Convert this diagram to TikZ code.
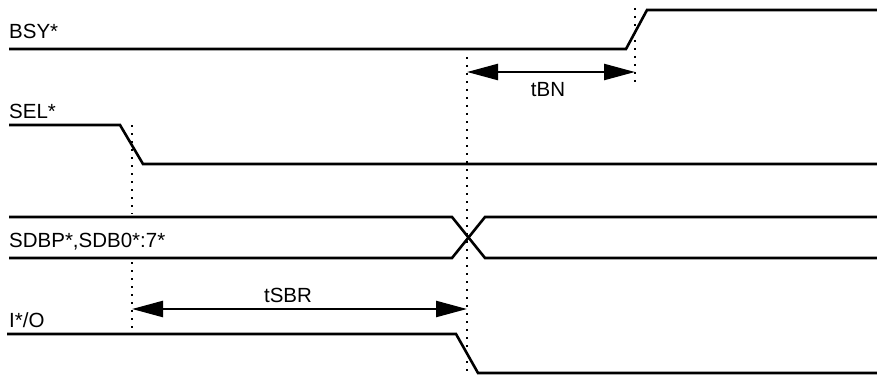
\documentclass[tikz,border=0pt]{standalone}
\usepackage{fontspec}
\setmainfont{Liberation Sans}
\usetikzlibrary{arrows.meta}

\tikzset{
	sig/.style={line width=2.6pt, line join=miter},
	mark line/.style={line width=2pt, dash pattern=on 2pt off 6pt},
	span/.style={line width=2.4pt, {Triangle[length=31pt,width=16pt]}-{Triangle[length=31pt,width=16pt]}},
	sname/.style={anchor=base west, inner sep=0pt, font=\fontsize{20.5}{24}\selectfont},
	tname/.style={anchor=base, inner sep=0pt, font=\fontsize{20.5}{24}\selectfont}
}

\begin{document}
\begin{tikzpicture}[x=1pt, y=-1pt]
		\useasboundingbox (0, 0) rectangle (877, 377);
		% time marks
		\coordinate (selT) at (132, 125);
		\coordinate (selM) at (132, 214);
		\coordinate (selN) at (132, 262);
		\coordinate (selB) at (132, 328);
		\coordinate (ioT) at (467, 57);
		\coordinate (ioB) at (467, 372);
		\coordinate (bsyT) at (635, 8);
		\coordinate (bsyB) at (635, 86);
		\draw[mark line] (selT) -- (selM);
		\draw[mark line] (selN) -- (selB);
		\draw[mark line] (ioT) -- (ioB);
		\draw[mark line] (bsyT) -- (bsyB);
		% signals
		\node[sname] (bsy) at (9, 39) {BSY*};
		\draw[sig] (9, 49) -- (626, 49) -- (647, 10) -- (877, 10);
		\node[sname] (sel) at (9, 118) {SEL*};
		\draw[sig] (9, 125) -- (120, 125) -- (143, 164) -- (877, 164);
		\node[sname] (sdb) at (9, 247) {SDBP*,SDB0*:7*};
		\draw[sig] (9, 217) -- (452, 217) -- (485, 258) -- (877, 258);
		\draw[sig] (9, 258) -- (452, 258) -- (485, 217) -- (877, 217);
		\node[sname] (io) at (9, 327) {I*/O};
		\draw[sig] (7, 334) -- (456, 334) -- (478, 373) -- (877, 373);
		% timings
		\coordinate (tbnL) at (467, 72);
		\coordinate (tbnR) at (635, 72);
		\draw[span] (tbnL) -- (tbnR);
		\node[tname] (tbn) at (548, 97) {tBN};
		\coordinate (tsbrL) at (132, 309);
		\coordinate (tsbrR) at (467, 309);
		\draw[span] (tsbrL) -- (tsbrR);
		\node[tname] (tsbr) at (288, 302) {tSBR};
	\end{tikzpicture}
\end{document}
